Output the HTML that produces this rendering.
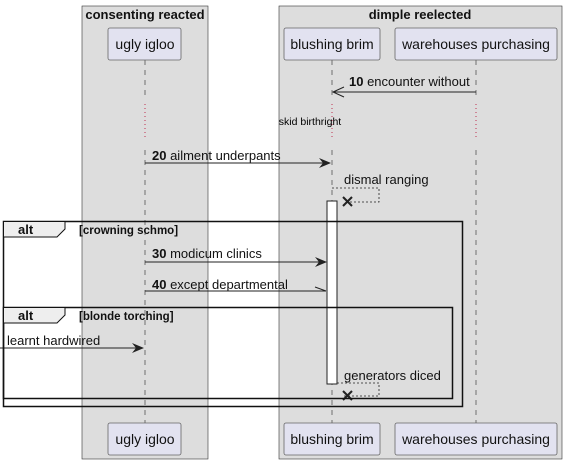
<!DOCTYPE html>
<html><head><style>html,body{margin:0;padding:0;background:#fff}svg{display:block}text{font-family:"Liberation Sans",sans-serif}</style></head><body>
<svg width="567" height="464" viewBox="0 0 567 464" xmlns="http://www.w3.org/2000/svg">
<rect x="82" y="6" width="126" height="453" fill="#ddd" stroke="#333" stroke-width="0.6"/>
<rect x="279" y="6" width="283" height="453" fill="#ddd" stroke="#333" stroke-width="0.6"/>
<text x="145" y="19" font-size="13" font-weight="bold" text-anchor="middle" fill="#111">consenting reacted</text>
<text x="420" y="19" font-size="13" font-weight="bold" text-anchor="middle" fill="#111">dimple reelected</text>
<g stroke="#555" stroke-width="0.8" stroke-dasharray="5,5" fill="none">
<line x1="145" y1="60" x2="145" y2="100"/><line x1="145" y1="150" x2="145" y2="423"/>
<line x1="332" y1="60" x2="332" y2="100"/><line x1="332" y1="150" x2="332" y2="423"/>
<line x1="476" y1="60" x2="476" y2="100"/><line x1="476" y1="150" x2="476" y2="423"/>
</g>
<g stroke="#c03050" stroke-width="1" stroke-dasharray="1,3" fill="none">
<line x1="145" y1="104" x2="145" y2="140"/><line x1="332" y1="104" x2="332" y2="140"/><line x1="476" y1="104" x2="476" y2="140"/>
</g>
<g fill="#e2e2f0" stroke="#666" stroke-width="0.8">
<rect x="108" y="28" width="73" height="32" rx="2"/><rect x="284" y="28" width="96" height="32" rx="2"/><rect x="395" y="28" width="162" height="32" rx="2"/>
<rect x="108" y="423" width="73" height="32" rx="2"/><rect x="284" y="423" width="96" height="32" rx="2"/><rect x="395" y="423" width="162" height="32" rx="2"/>
</g>
<g font-size="14" fill="#111" text-anchor="middle">
<text x="145" y="49">ugly igloo</text><text x="332" y="49">blushing brim</text><text x="476" y="49">warehouses purchasing</text>
<text x="145" y="444">ugly igloo</text><text x="332" y="444">blushing brim</text><text x="476" y="444">warehouses purchasing</text>
</g>
<text x="310" y="125" font-size="10.5" text-anchor="middle" fill="#000">skid birthright</text>
<g font-size="13" fill="#111">
<text x="349" y="86"><tspan font-weight="bold">10</tspan> encounter without</text>
<text x="152" y="160"><tspan font-weight="bold">20</tspan> ailment underpants</text>
<text x="344" y="184">dismal ranging</text>
<text x="152" y="258"><tspan font-weight="bold">30</tspan> modicum clinics</text>
<text x="152" y="289"><tspan font-weight="bold">40</tspan> except departmental</text>
<text x="7" y="345">learnt hardwired</text>
<text x="344" y="380">generators diced</text>
</g>
<g stroke="#222" stroke-width="1" fill="none">
<line x1="476" y1="92" x2="333" y2="92"/><polyline points="344,87 333,92 344,97"/>
<line x1="145" y1="163" x2="330" y2="163"/>
<line x1="145" y1="262" x2="325" y2="262"/>
<line x1="145" y1="291" x2="326" y2="291"/><line x1="326" y1="291" x2="315" y2="287"/>
<line x1="0" y1="348" x2="143" y2="348"/>
</g>
<g fill="#222">
<polygon points="331,163 319,158 323,163 319,168"/>
<polygon points="327,262 315,257 319,262 315,267"/>
<polygon points="144,348 132,343 136,348 132,353"/>
</g>
<g stroke="#222" stroke-width="0.8" stroke-dasharray="2,2" fill="none">
<polyline points="332,188 379,188 379,202 344,202"/>
<polyline points="337,383 379,383 379,396 344,396"/>
</g>
<g stroke="#222" stroke-width="2">
<line x1="343" y1="197" x2="352" y2="206"/><line x1="352" y1="197" x2="343" y2="206"/>
<line x1="343" y1="391" x2="352" y2="400"/><line x1="352" y1="391" x2="343" y2="400"/>
</g>
<rect x="327" y="201" width="10" height="183" fill="#fff" stroke="#222" stroke-width="1"/>
<rect x="3.5" y="221.5" width="459" height="185" fill="none" stroke="#111" stroke-width="1.5"/>
<path d="M3.5,221.5 H65 V229 L57,237 H3.5 Z" fill="#eee" stroke="#111" stroke-width="1"/>
<text x="18" y="234" font-size="13" font-weight="bold" fill="#111">alt</text>
<text x="79" y="234" font-size="11.5" font-weight="bold" fill="#111">[crowning schmo]</text>
<rect x="3.5" y="307.5" width="449" height="91" fill="none" stroke="#111" stroke-width="1.5"/>
<path d="M3.5,307.5 H65 V315 L57,323 H3.5 Z" fill="#eee" stroke="#111" stroke-width="1"/>
<text x="18" y="320" font-size="13" font-weight="bold" fill="#111">alt</text>
<text x="79" y="320" font-size="11.5" font-weight="bold" fill="#111">[blonde torching]</text>
</svg>
</body></html>
